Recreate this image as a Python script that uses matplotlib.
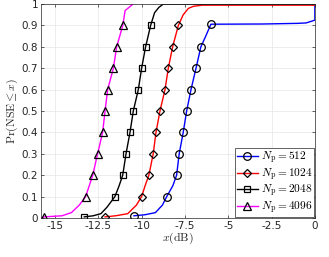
import numpy as np
import matplotlib
matplotlib.use("Agg")
from matplotlib import pyplot as plt

plt.rcParams['mathtext.fontset'] = 'cm'
plt.rcParams['font.family'] = 'DejaVu Sans'

# N_p = 512
x512 = [-10.44, -9.8, -9.2, -8.8, -8.55, -8.2, -7.98, -7.83, -7.60, -7.40, -7.15,
        -6.86, -6.58, -6.3, -6.0, -3.0, -1.0, -0.5, 0.0, 0.0]
y512 = [0.01, 0.015, 0.025, 0.06, 0.1, 0.15, 0.2, 0.3, 0.4, 0.5, 0.6,
        0.7, 0.8, 0.85, 0.906, 0.907, 0.91, 0.912, 0.925, 1.0]
m512 = [0, 4, 6, 7, 8, 9, 10, 11, 12, 14]

# N_p = 1024
x1024 = [-12.11, -11.5, -10.8, -10.3, -10.0, -9.8, -9.58, -9.33, -9.17, -8.94,
         -8.65, -8.46, -8.21, -7.88, -7.6, -7.3, -7.0, -6.5, 0.0]
y1024 = [0.005, 0.01, 0.02, 0.06, 0.1, 0.15, 0.2, 0.3, 0.4, 0.5,
         0.6, 0.7, 0.8, 0.9, 0.95, 0.98, 0.99, 0.995, 0.995]
m1024 = [0, 4, 6, 7, 8, 9, 10, 11, 12, 13]

# N_p = 2048
x2048 = [-13.31, -12.8, -12.35, -12.0, -11.54, -11.3, -11.09, -10.90, -10.67, -10.48,
         -10.19, -10.0, -9.77, -9.48, -9.25, -9.0, -8.75, -8.5, 0.0]
y2048 = [0.005, 0.01, 0.02, 0.05, 0.1, 0.15, 0.2, 0.3, 0.4, 0.5,
         0.6, 0.7, 0.8, 0.9, 0.96, 0.985, 1.0, 1.0, 1.0]
m2048 = [0, 4, 6, 7, 8, 9, 10, 11, 12, 13]

# N_p = 4096
x4096 = [-15.8, -15.62, -14.6, -14.05, -13.6, -13.23, -12.82, -12.54, -12.25, -12.11,
         -11.96, -11.63, -11.44, -11.09, -10.95, -10.5]
y4096 = [0.0, 0.005, 0.01, 0.025, 0.06, 0.1, 0.2, 0.3, 0.4, 0.5,
         0.6, 0.7, 0.8, 0.9, 0.97, 1.0]
m4096 = [1, 5, 6, 7, 8, 9, 10, 11, 12, 13]

xticks = [-15, -12.5, -10, -7.5, -5, -2.5, 0]
xticklabels = ['-15', '-12.5', '-10', '-7.5', '-5', '-2.5', '0']
yticks = [0, 0.1, 0.2, 0.3, 0.4, 0.5, 0.6, 0.7, 0.8, 0.9, 1]
yticklabels = ['0', '0.1', '0.2', '0.3', '0.4', '0.5', '0.6', '0.7', '0.8', '0.9', '1']

fig = plt.figure(figsize=(3.29, 2.57), dpi=100)
ax = fig.add_axes([0.125, 0.152, 0.832, 0.832])

series = [
    (x512, y512, m512, '#0000ff', 'o', 5.5, r'$N_\mathrm{p}=512$'),
    (x1024, y1024, m1024, '#ff0000', 'D', 4.5, r'$N_\mathrm{p}=1024$'),
    (x2048, y2048, m2048, '#000000', 's', 5.0, r'$N_\mathrm{p}=2048$'),
    (x4096, y4096, m4096, '#ff00ff', '^', 6.0, r'$N_\mathrm{p}=4096$'),
]
for xs, ys, mk, c, m, ms, lab in series:
    ax.plot(xs, ys, color=c, lw=1.0, marker=m, markevery=mk, ms=ms,
            mfc='none', mec='black', mew=0.9, label=lab)

ax.set_xlim(-15.8, 0)
ax.set_ylim(0, 1)
ax.set_xticks(xticks)
ax.set_xticklabels(xticklabels)
ax.set_yticks(yticks)
ax.set_yticklabels(yticklabels)
ax.tick_params(direction='in', length=2.5, width=0.5, labelsize=7.5, colors='#262626',
               top=True, right=True, pad=2)
ax.grid(True, color='#e6e6e6', lw=0.5)
ax.set_axisbelow(True)
for s in ax.spines.values():
    s.set_color('#262626')
    s.set_linewidth(0.5)

ax.set_xlabel(r'$x(\mathrm{dB})$', fontsize=8.5, color='#262626', labelpad=0)
ax.set_ylabel(r'$\Pr(\mathrm{NSE}\leq x)$', fontsize=8.5, color='#262626', labelpad=1)

leg = ax.legend(loc='lower right', fontsize=8.2, handlelength=1.9, handletextpad=0.25,
                borderpad=0.15, labelspacing=0.0, borderaxespad=0.05, fancybox=False,
                framealpha=1, edgecolor='#262626')
leg.get_frame().set_linewidth(0.5)

fig.savefig('out.png', dpi=100)
